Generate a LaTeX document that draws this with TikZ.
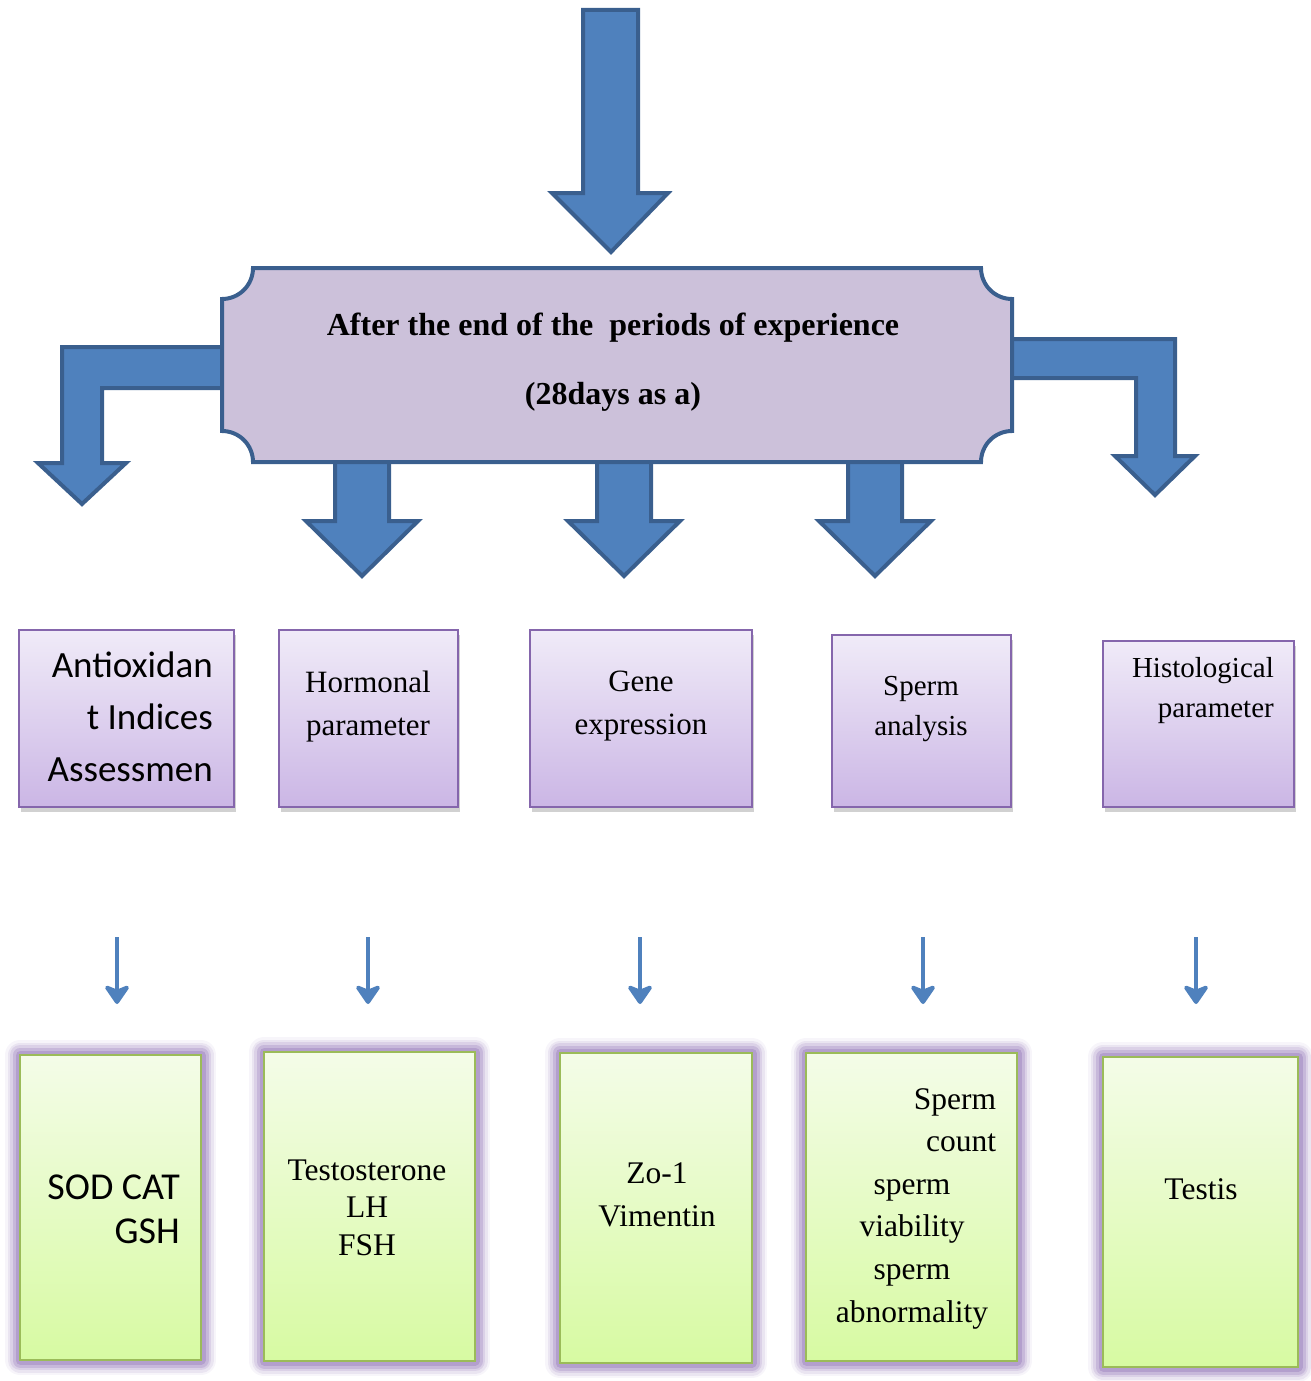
\documentclass[tikz,border=0pt]{standalone}
\usepackage{fontspec}
\setmainfont{Liberation Serif}
\newfontfamily\calibri{Carlito}
\usetikzlibrary{arrows.meta,shadows}

\definecolor{blockfill}{HTML}{4F81BD}
\definecolor{blockline}{HTML}{3A5F8E}
\definecolor{plaquefill}{HTML}{CCC1DA}
\definecolor{midtop}{HTML}{F0EBF8}
\definecolor{midbot}{HTML}{CBB6E5}
\definecolor{midline}{HTML}{8566AC}
\definecolor{greentop}{HTML}{F4FCE8}
\definecolor{greenbot}{HTML}{D7FAA2}
\definecolor{greenline}{HTML}{9BBB59}
\definecolor{glowc}{HTML}{9B80BD}

\begin{document}
\begin{tikzpicture}[x=1pt,y=-1pt,
    blockarrow/.style={fill=blockfill,draw=blockline,line width=4pt,line join=miter},
    midbox/.style={draw=midline,line width=2pt,top color=midtop,bottom color=midbot,inner sep=0pt,
        drop shadow={shadow xshift=1.5pt,shadow yshift=-5pt,opacity=0.3,fill=black!60}},
    greenbox/.style={draw=greenline,line width=2.5pt,top color=greentop,bottom color=greenbot,inner sep=0pt,
        preaction={draw=glowc,line width=30pt,opacity=0.08,line join=round},
        preaction={draw=glowc,line width=25pt,opacity=0.14,line join=round},
        preaction={draw=glowc,line width=20pt,opacity=0.2,line join=round},
        preaction={draw=glowc,line width=15pt,opacity=0.3,line join=round},
        preaction={draw=glowc,line width=9pt,opacity=0.45,line join=round}},
    serif/.style={font=\fontsize{31}{43}\selectfont,align=center,inner sep=0pt},
    small serif/.style={font=\fontsize{29}{40}\selectfont,align=center,inner sep=0pt},
    sans/.style={font=\calibri\fontsize{37}{52}\selectfont,align=right,inner sep=0pt,anchor=east},
    thinarrow/.style={draw=blockfill,line width=4.5pt,-{Stealth[length=22pt,width=30pt,inset=6pt,round]}}]

    \useasboundingbox (0,0) rectangle (1311,1381);

    % Block arrows
    \draw[blockarrow] (583,10) -- (638,10) -- (638,193) -- (668,193) -- (611,252) -- (552,193) -- (583,193) -- cycle;
    \draw[blockarrow] (230,347) -- (62,347) -- (62,463) -- (38,463) -- (82,504) -- (126,463) -- (102,463) -- (102,388) -- (230,388) -- cycle;
    \draw[blockarrow] (1005,339) -- (1175,339) -- (1175,456) -- (1195,456) -- (1155,495) -- (1115,456) -- (1136,456) -- (1136,378) -- (1005,378) -- cycle;
    \foreach \x in {362,624,875}
        \draw[blockarrow] (\x-27,455) -- (\x+27,455) -- (\x+27,521) -- (\x+56,521) -- (\x,576) -- (\x-56,521) -- (\x-27,521) -- cycle;

    % Main box
    \draw[fill=plaquefill,draw=blockline,line width=4pt] (253,268) -- (981,268)
        arc[start angle=180,end angle=270,radius=31pt] -- (1012,431)
        arc[start angle=90,end angle=180,radius=31pt] -- (253,462)
        arc[start angle=0,end angle=90,radius=31pt] -- (222,299)
        arc[start angle=270,end angle=360,radius=31pt] -- cycle;
    \node[font=\fontsize{32}{69}\selectfont\bfseries,align=center,inner sep=0pt] (main) at (613,362)
        {After the end of the\ \ periods of experience\\(28days as a)};

    % Second row
    \node[midbox,minimum width=215pt,minimum height=177pt] (antiox) at (126.5,718.5) {};
    \node[midbox,minimum width=179pt,minimum height=177pt] (hormon) at (368.5,718.5) {};
    \node[midbox,minimum width=222pt,minimum height=177pt] (gene) at (641,718.5) {};
    \node[midbox,minimum width=179pt,minimum height=172pt] (sperm) at (921.5,721) {};
    \node[midbox,minimum width=191pt,minimum height=166pt] (histo) at (1198.5,724) {};

    \node[sans] (antiox-t) at (213,717) {Antioxidan\\t Indices\\Assessmen};
    \node[serif] (hormon-t) at (368,706.5) {Hormonal\\parameter};
    \node[serif] (gene-t) at (641,706.5) {Gene\\expression};
    \node[small serif] (sperm-t) at (921,709) {Sperm\\analysis};
    \node[small serif,align=right,anchor=east] (histo-t) at (1274,691) {Histological\\parameter};

    % Thin arrows
    \foreach \x [count=\i] in {117,368,640,923,1196} {
        \coordinate (top\i) at (\x,937);
        \coordinate (bot\i) at (\x,1004);
        \draw[thinarrow] (top\i) -- (bot\i);
    }

    % Third row
    \node[greenbox,minimum width=181pt,minimum height=305pt] (sod) at (110.5,1207.5) {};
    \node[greenbox,minimum width=211pt,minimum height=309pt] (testo) at (369.5,1206.5) {};
    \node[greenbox,minimum width=192pt,minimum height=310pt] (zo) at (656,1208) {};
    \node[greenbox,minimum width=211pt,minimum height=308pt] (spc) at (911.5,1207) {};
    \node[greenbox,minimum width=195pt,minimum height=310pt] (testis) at (1200.5,1212) {};

    \node[sans,font=\calibri\fontsize{38}{44}\selectfont] (sod-t) at (180,1209) {SOD CAT\\GSH};
    \node[serif,font=\fontsize{31.5}{37.5}\selectfont] (testo-t) at (367,1207.5) {Testosterone\\LH\\FSH};
    \node[serif,font=\fontsize{31.5}{43}\selectfont] (zo-t) at (657,1194.5) {Zo-1\\Vimentin};
    \node[serif,font=\fontsize{31.5}{42.6}\selectfont,text width=168pt] (spc-t) at (912,1208.5)
        {\makebox[168pt][r]{Sperm}\\\makebox[168pt][r]{count}\\sperm\\viability\\sperm\\abnormality};
    \node[serif,font=\fontsize{31.5}{43}\selectfont] (testis-t) at (1201,1189) {Testis};
\end{tikzpicture}
\end{document}
